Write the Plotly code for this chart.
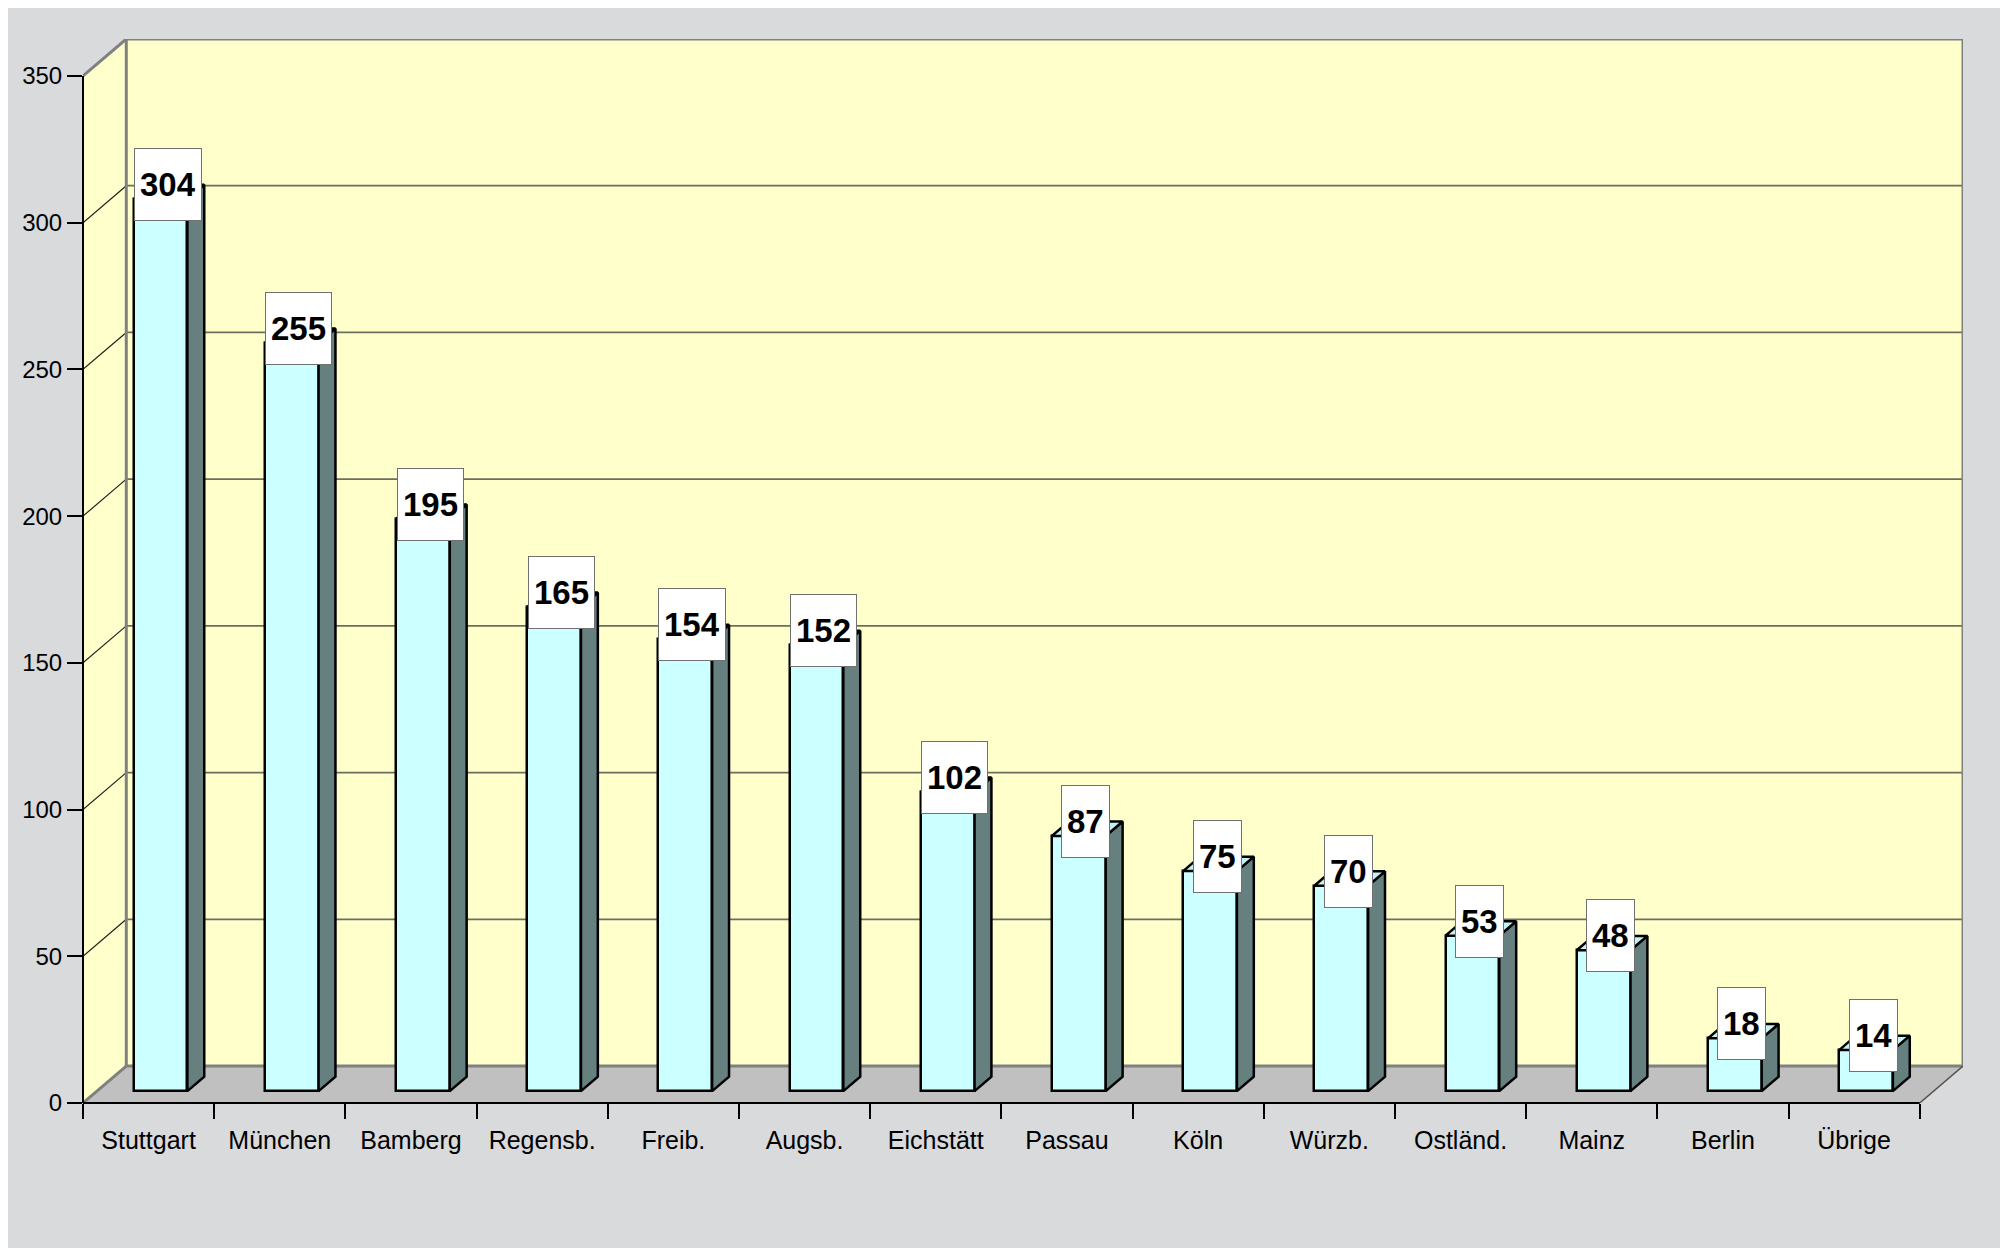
import plotly.graph_objects as go

# ---------------- data ----------------
categories = ["Stuttgart", "München", "Bamberg", "Regensb.", "Freib.", "Augsb.",
              "Eichstätt", "Passau", "Köln", "Würzb.", "Ostländ.", "Mainz",
              "Berlin", "Übrige"]
values = [304, 255, 195, 165, 154, 152, 102, 87, 75, 70, 53, 48, 18, 14]
y_ticks = [0, 50, 100, 150, 200, 250, 300, 350]

# ---------------- 3D look parameters ----------------
Y_MAX = 350
DX = 0.33      # depth offset (category units)
DY = 12.6      # depth offset (value units)
F0, F1 = 0.32, 0.71   # bar front / back depth fractions
BAR_W = 0.41
BAR_C = -0.015
LABEL_DX = 0.145

FONT = "Liberation Sans, Arial, sans-serif"
BG = "#D9DADC"
WALL = "#FFFFCC"
FLOOR = "#C0C0C0"
FRONT = "#CCFFFF"
SIDE = "#668080"
TOP = "#C4F2F2"
EDGE = "#808080"

n = len(categories)
XL, XR = -0.5, n - 0.5
W, H = 1992, 1240
ML, MR, MT, MB = 75, 37, 31, 145

shapes = []


def path(pts):
    return "M " + " L ".join(f"{x},{y}" for x, y in pts) + " Z"


# left wall
shapes.append(dict(type="path", layer="below", xref="x", yref="y",
                   path=path([(XL, 0), (XL, Y_MAX), (XL + DX, Y_MAX + DY), (XL + DX, DY)]),
                   fillcolor=WALL, line=dict(width=0)))
# back wall
shapes.append(dict(type="rect", layer="below", xref="x", yref="y",
                   x0=XL + DX, x1=XR + DX, y0=DY, y1=Y_MAX + DY,
                   fillcolor=WALL, line=dict(width=0)))
# floor
shapes.append(dict(type="path", layer="below", xref="x", yref="y",
                   path=path([(XL, 0), (XR, 0), (XR + DX, DY), (XL + DX, DY)]),
                   fillcolor=FLOOR, line=dict(width=0)))

# grid lines
for v in y_ticks[1:-1]:
    shapes.append(dict(type="line", layer="below", xref="x", yref="y",
                       x0=XL, y0=v, x1=XL + DX, y1=v + DY,
                       line=dict(color="#202020", width=1.2)))
    shapes.append(dict(type="line", layer="below", xref="x", yref="y",
                       x0=XL + DX, y0=v + DY, x1=XR + DX, y1=v + DY,
                       line=dict(color="#6E6E60", width=1.8)))

# wall edges (gray)
for (x0, y0, x1, y1) in [
    (XL, Y_MAX, XL + DX, Y_MAX + DY),
    (XL + DX, Y_MAX + DY, XR + DX, Y_MAX + DY),
    (XR + DX, Y_MAX + DY, XR + DX, DY),
    (XL + DX, DY, XL + DX, Y_MAX + DY),
    (XL + DX, DY, XR + DX, DY),
    (XL, 0, XL + DX, DY),
]:
    shapes.append(dict(type="line", layer="below", xref="x", yref="y",
                       x0=x0, y0=y0, x1=x1, y1=y1,
                       line=dict(color=EDGE, width=3)))
# floor right diagonal
shapes.append(dict(type="line", layer="below", xref="x", yref="y",
                   x0=XR, y0=0, x1=XR + DX, y1=DY,
                   line=dict(color="#505050", width=1.5)))
# front axis lines
shapes.append(dict(type="line", layer="above", xref="paper", yref="y",
                   x0=0, y0=0, x1=0, y1=Y_MAX, line=dict(color="black", width=2)))
shapes.append(dict(type="line", layer="above", xref="x", yref="paper",
                   x0=XL, y0=0, x1=XR, y1=0, line=dict(color="black", width=2)))

fig = go.Figure()

# bar front faces
xc = [i + BAR_C + F0 * DX for i in range(n)]
fig.add_trace(go.Bar(x=xc, y=values, base=F0 * DY, width=BAR_W,
                     marker=dict(color=FRONT, line=dict(color="black", width=2.5)),
                     hoverinfo="skip", showlegend=False))

# side + top faces
ddx, ddy = (F1 - F0) * DX, (F1 - F0) * DY
sx, sy, tx, ty = [], [], [], []
for i, v in enumerate(values):
    xl = xc[i] - BAR_W / 2
    xr = xc[i] + BAR_W / 2
    b = F0 * DY
    t = v + b
    sx += [xr, xr + ddx, xr + ddx, xr, xr, None]
    sy += [b, b + ddy, t + ddy, t, b, None]
    tx += [xl, xr, xr + ddx, xl + ddx, xl, None]
    ty += [t, t, t + ddy, t + ddy, t, None]
fig.add_trace(go.Scatter(x=sx, y=sy, mode="lines", fill="toself", fillcolor=SIDE,
                         line=dict(color="black", width=2.5), hoverinfo="skip",
                         showlegend=False))
fig.add_trace(go.Scatter(x=tx, y=ty, mode="lines", fill="toself", fillcolor=TOP,
                         line=dict(color="black", width=2.5), hoverinfo="skip",
                         showlegend=False))

# value labels
annotations = []
for i, v in enumerate(values):
    annotations.append(dict(x=i + LABEL_DX, y=v + F1 * DY, xref="x", yref="y",
                            text=f"<b>{v}</b>", showarrow=False,
                            xanchor="center", yanchor="middle",
                            font=dict(family=FONT, size=33, color="black"),
                            bgcolor="white", bordercolor="#707070", borderwidth=1,
                            borderpad=5, height=61))

fig.update_layout(
    width=W, height=H,
    margin=dict(l=ML, r=MR, t=MT, b=MB, pad=0),
    paper_bgcolor=BG, plot_bgcolor="rgba(0,0,0,0)",
    shapes=shapes, annotations=annotations,
    showlegend=False, bargap=0,
    font=dict(family=FONT, color="black"),
)
fig.update_xaxes(range=[XL, XR + DX], tickmode="array",
                 tickvals=list(range(n)), ticktext=categories,
                 ticks="", showgrid=False, zeroline=False, showline=False,
                 ticklabelstandoff=20,
                 tickfont=dict(family=FONT, size=25, color="black"),
                 minor=dict(tickmode="array", tickvals=[i - 0.5 for i in range(n + 1)],
                            ticks="outside", ticklen=15, tickwidth=1.5,
                            tickcolor="black", showgrid=False),
                 fixedrange=True)
fig.update_yaxes(range=[0, Y_MAX + DY], tickmode="array", tickvals=y_ticks,
                 ticks="outside", ticklen=15, tickwidth=1.5, tickcolor="black",
                 showgrid=False, zeroline=False, showline=False,
                 tickfont=dict(family=FONT, size=24, color="black"),
                 fixedrange=True)

fig.write_html("out.html")
